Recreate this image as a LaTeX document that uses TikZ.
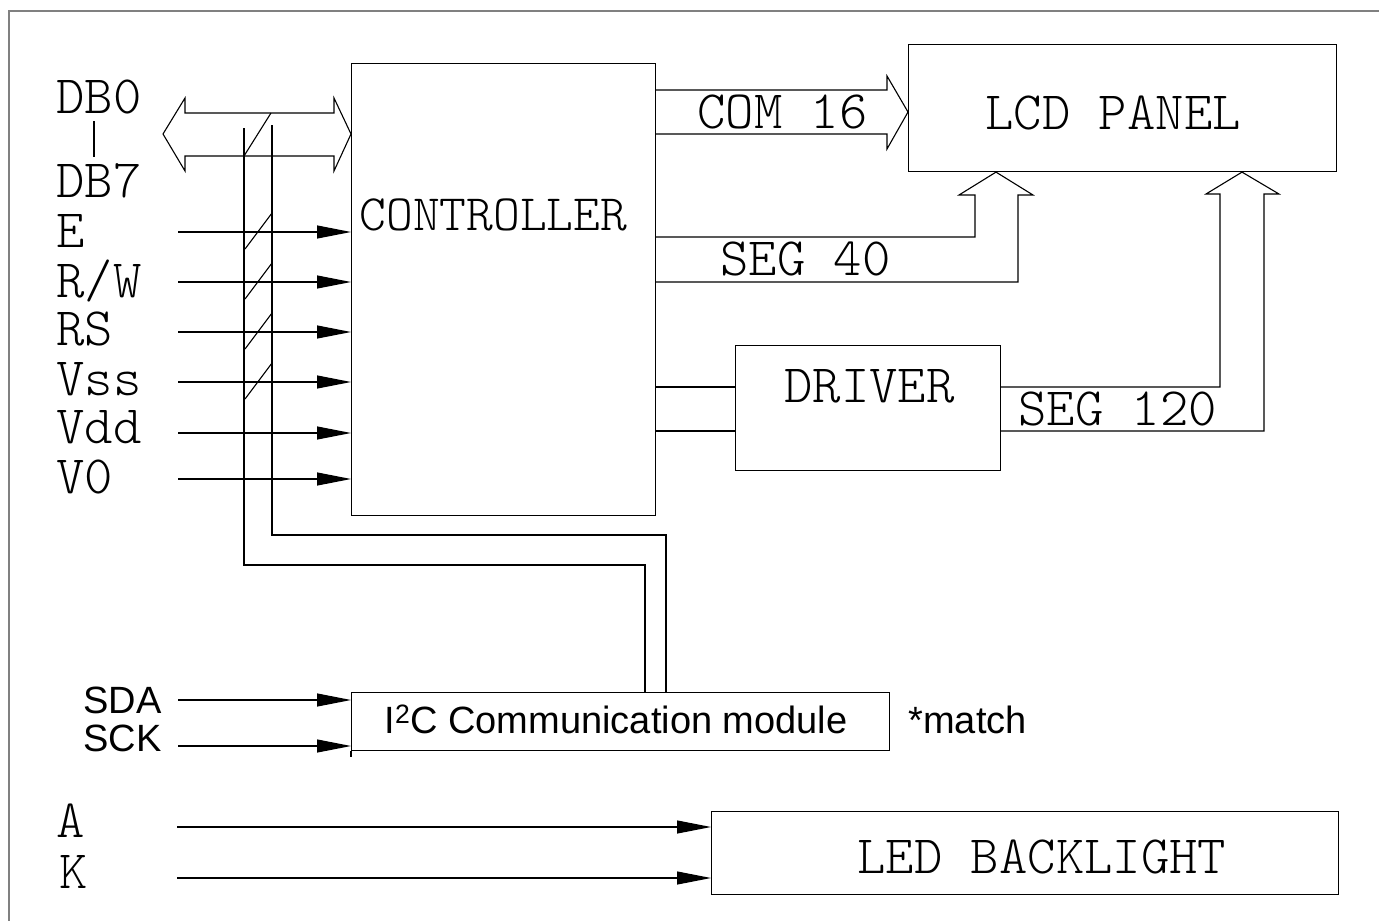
\documentclass[tikz,border=0pt]{standalone}
\usepackage{fontspec}
\newfontfamily\arialf{Liberation Sans}
\newfontfamily\cadf{Latin Modern Mono Light}
\usetikzlibrary{arrows.meta}
\begin{document}
\begin{tikzpicture}[x=1pt,y=-1pt,line width=1.1pt,line join=miter,
  box/.style={draw,rectangle,inner sep=0pt,anchor=north west},
  cad/.style={font=\fontsize{54}{60}\selectfont\cadf,inner sep=0pt,anchor=base west},
  sans/.style={font=\fontsize{38}{44}\selectfont\arialf,inner sep=0pt,anchor=base west},
  sig/.style={-{Triangle[length=34pt,width=13pt]}},
  frame/.style={draw=black!50,line width=1.3pt}]
\useasboundingbox (0,0) rectangle (1379,921);
% frame
\draw[frame] (9,921) -- (9,11) -- (1379,11);
% boxes
\node[box,minimum width=304pt,minimum height=452pt] (ctrl) at (351,63) {};
\node[box,minimum width=428pt,minimum height=127pt] (lcd) at (908,44) {};
\node[box,minimum width=265pt,minimum height=125pt] (drv) at (735,345) {};
\node[box,minimum width=538pt,minimum height=58pt] (i2c) at (351,692) {};
\node[box,minimum width=627pt,minimum height=83pt] (led) at (711,811) {};
% box texts
\node[cad,font=\fontsize{51}{60}\selectfont\cadf] (tctrl) at (359,230) {CONTROLLER};
\node[cad] (tlcd) at (985,129) {LCD PANEL};
\node[cad] (tdrv) at (784,402) {DRIVER};
\node[cad] (tled) at (857,873) {LED BACKLIGHT};
\node[sans] (ti2c) at (384,733) {I\textsuperscript{2}C Communication module};
\node[sans] (tmatch) at (908,733) {*match};
% left labels
\node[cad] (lDB0) at (56,113) {DB0};
\node[cad] (lDB7) at (56,197) {DB7};
\draw (94,121) -- (94,157);
\node[cad] (lE) at (56,247) {E};
\node[cad] (lRW) at (56,297) {R/W};
\node[cad] (lRS) at (56,345) {RS};
\node[cad] (lVss) at (56,395) {Vss};
\node[cad] (lVdd) at (56,443) {Vdd};
\node[cad] (lV0) at (56,493) {V0};
\node[cad] (lA) at (56,837) {A};
\node[cad] (lK) at (59,888) {K};
\node[sans] (lSDA) at (83,713) {SDA};
\node[sans] (lSCK) at (83,751) {SCK};
% data bus double arrow
\draw (163,134) -- (185,98) -- (185,113) -- (334,113) -- (334,98) -- (ctrl.west |- 0,134)
  -- (334,171) -- (334,156) -- (185,156) -- (185,171) -- cycle;
% signal lines
\foreach \n/\y in {E/232,RW/282,RS/332,Vss/382,Vdd/433,V0/479}{
  \coordinate (s\n) at (178,\y);
  \draw[sig] (s\n) -- (s\n -| ctrl.west);
}
% I2C wires up to bus
\coordinate (vL) at (244,128);
\coordinate (vR) at (272,125);
\coordinate (tapL) at (645,565);
\coordinate (tapR) at (666,535);
\draw (vL) |- (tapL) -- (tapL |- i2c.north);
\draw (vR) |- (tapR) -- (tapR |- i2c.north);
% slashes
\draw (244,156) -- (271,113);
\foreach \y in {232,282,332,382}{
  \draw (245,\y+17) -- (272,\y-19);
}
% SDA / SCK
\coordinate (sSDA) at (178,700);
\coordinate (sSCK) at (178,746);
\draw[sig] (sSDA) -- (sSDA -| i2c.west);
\draw[sig] (sSCK) -- (sSCK -| i2c.west);
\draw (i2c.south west) -- ++(0,6);
% A / K
\coordinate (sA) at (177,827);
\coordinate (sK) at (177,878);
\draw[sig] (sA) -- (sA -| led.west);
\draw[sig] (sK) -- (sK -| led.west);
% COM 16 block arrow
\draw (ctrl.east |- 0,90) -- (887,90) -- (887,76) -- (lcd.west |- 0,112) -- (887,149) -- (887,134) -- (ctrl.east |- 0,134);
\node[cad] (tcom) at (697,128) {COM 16};
% SEG 40 block arrow
\draw (ctrl.east |- 0,237) -- (975,237) -- (975,195) -- (959,195) -- (996,171 |- lcd.south) -- (1033,195) -- (1018,195) -- (1018,282) -- (ctrl.east |- 0,282);
\node[cad] (tseg40) at (720,275) {SEG 40};
% controller to driver
\draw (ctrl.east |- 0,387) -- (drv.west |- 0,387);
\draw (ctrl.east |- 0,431) -- (drv.west |- 0,431);
% SEG 120 block arrow
\draw (drv.east |- 0,387) -- (1220,387) -- (1220,194) -- (1206,194) -- (1242,171 |- lcd.south) -- (1279,194) -- (1264,194) -- (1264,431) -- (drv.east |- 0,431);
\node[cad] (tseg120) at (1018,425) {SEG 120};
\end{tikzpicture}
\end{document}
